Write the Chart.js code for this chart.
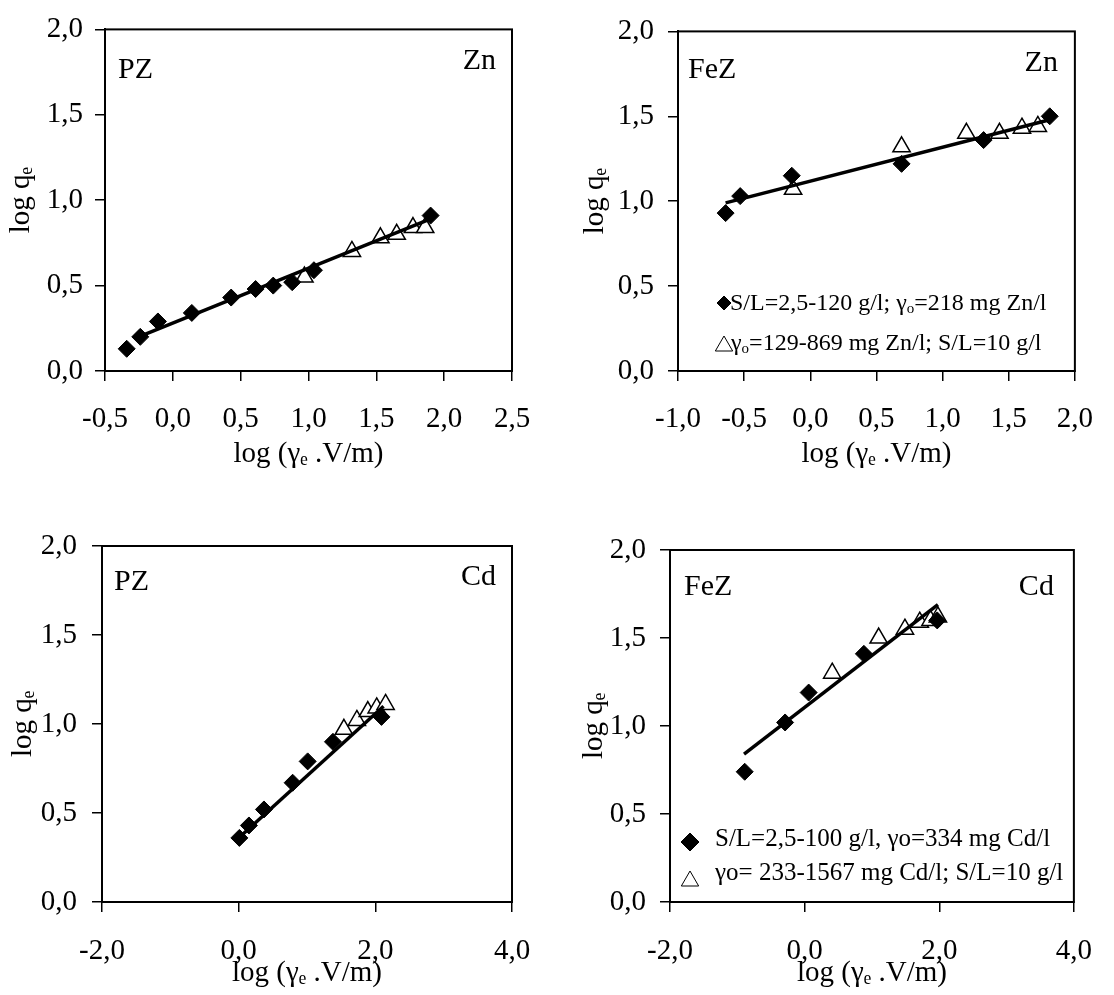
<!DOCTYPE html>
<html>
<head>
<meta charset="utf-8">
<title>log qe - log (γe V/m)</title>
<script src="https://cdn.jsdelivr.net/npm/chart.js@4.4.1/dist/chart.umd.min.js"></script>
<style>
    body { margin: 0; background: #fff; }
    #page { position: relative; width: 1114px; height: 995px; overflow: hidden; background: #fff; }
    canvas { position: absolute; }
</style>
</head>
<body>
<div id="page">
    <canvas id="pzZn" width="557" height="485" style="left:0;top:0"></canvas>
    <canvas id="feZn" width="557" height="485" style="left:557px;top:0"></canvas>
    <canvas id="pzCd" width="557" height="505" style="left:0;top:490px"></canvas>
    <canvas id="feCd" width="557" height="505" style="left:557px;top:490px"></canvas>
</div>
<script>
// values
var yTicks = [ 0, 0.5, 1, 1.5, 2 ];

var pzZnXTicks = [ -0.5, 0, 0.5, 1, 1.5, 2, 2.5 ];
var pzZnDiamondX = [ -0.34, -0.24, -0.11, 0.14, 0.43, 0.61, 0.74, 0.88, 1.04, 1.90 ];
var pzZnDiamondY = [ 0.13, 0.20, 0.29, 0.34, 0.43, 0.48, 0.50, 0.52, 0.59, 0.91 ];
var pzZnTriangleX = [ 0.97, 1.32, 1.53, 1.65, 1.77, 1.86 ];
var pzZnTriangleY = [ 0.55, 0.70, 0.78, 0.80, 0.84, 0.84 ];
var pzZnFitX = [ -0.22, 1.90 ];
var pzZnFitY = [ 0.21, 0.89 ];

var feZnXTicks = [ -1, -0.5, 0, 0.5, 1, 1.5, 2 ];
var feZnDiamondX = [ -0.64, -0.53, -0.14, 0.69, 1.31, 1.81 ];
var feZnDiamondY = [ 0.93, 1.03, 1.15, 1.22, 1.36, 1.50 ];
var feZnTriangleX = [ -0.13, 0.69, 1.18, 1.43, 1.60, 1.72 ];
var feZnTriangleY = [ 1.07, 1.32, 1.40, 1.40, 1.43, 1.44 ];
var feZnFitX = [ -0.64, 1.81 ];
var feZnFitY = [ 0.99, 1.48 ];

var cdXTicks = [ -2, 0, 2, 4 ];
var pzCdDiamondX = [ 0.01, 0.15, 0.37, 0.79, 1.01, 1.38, 2.09 ];
var pzCdDiamondY = [ 0.36, 0.43, 0.52, 0.67, 0.79, 0.90, 1.04 ];
var pzCdTriangleX = [ 1.54, 1.73, 1.89, 2.02, 2.15 ];
var pzCdTriangleY = [ 0.97, 1.02, 1.07, 1.09, 1.11 ];
var pzCdFitX = [ 0.0, 2.12 ];
var pzCdFitY = [ 0.36, 1.10 ];

var feCdDiamondX = [ -0.89, -0.29, 0.06, 0.88, 1.97 ];
var feCdDiamondY = [ 0.74, 1.02, 1.19, 1.41, 1.60 ];
var feCdTriangleX = [ 0.41, 1.10, 1.49, 1.71, 1.87, 1.98 ];
var feCdTriangleY = [ 1.30, 1.50, 1.55, 1.59, 1.60, 1.62 ];
var feCdFitX = [ -0.90, 1.98 ];
var feCdFitY = [ 0.84, 1.69 ];

var SERIF = '"Liberation Serif", "Times New Roman", serif';

var points = function ( xs, ys ) {
    return xs.map( function ( x, i ) {
        return { x: x, y: ys[ i ] };
    } );
};

var comma = function ( v ) {
    return Number( v ).toFixed( 1 ).replace( '.', ',' );
};

// text pieces starting with '_' are drawn as subscripts
var drawRich = function ( ctx, parts, x, y, size ) {
    parts.forEach( function ( p ) {
        var sub = p.charAt( 0 ) === '_';
        var txt = sub ? p.slice( 1 ) : p;
        ctx.font = ( sub ? Math.round( size * 0.62 ) : size ) + 'px ' + SERIF;
        ctx.fillText( txt, x, sub ? y + size * 0.12 : y );
        x += ctx.measureText( txt ).width;
    } );
};

var framePlugin = {
    id: 'frame',
    beforeDatasetsDraw: function ( chart ) {
        var a = chart.chartArea;
        var ctx = chart.ctx;
        ctx.save();
        ctx.strokeStyle = '#000';
        ctx.lineWidth = 2;
        ctx.strokeRect( a.left, a.top, a.right - a.left, a.bottom - a.top );
        ctx.restore();
    }
};

var notesPlugin = {
    id: 'notes',
    afterDraw: function ( chart ) {
        var p = chart.options.plugins.notes;
        var a = chart.chartArea;
        var ctx = chart.ctx;
        ctx.save();
        ctx.fillStyle = '#000';
        ctx.textBaseline = 'alphabetic';
        ctx.font = '30px ' + SERIF;
        ctx.textAlign = 'left';
        ctx.fillText( p.adsorbent.text, a.left + p.adsorbent.dx, a.top + p.adsorbent.dy );
        ctx.textAlign = 'right';
        ctx.fillText( p.metal.text, a.right - p.metal.dx, a.top + p.metal.dy );
        ctx.textAlign = 'left';
        ( p.legend || [] ).forEach( function ( row ) {
            ctx.fillStyle = row.fill;
            ctx.strokeStyle = '#000';
            Chart.helpers.drawPoint( ctx, {
                pointStyle: row.style,
                radius: row.radius,
                borderWidth: 1.5,
                rotation: 0
            }, a.left + row.mx, a.bottom - row.my );
            ctx.fillStyle = '#000';
            drawRich( ctx, row.parts, a.left + row.tx, a.bottom - row.ty, row.size );
        } );
        ctx.restore();
    }
};

var makePanel = function ( p ) {
    var font = { family: SERIF, size: 29 };
    return new Chart( document.getElementById( p.id ), {
        type: 'scatter',
        data: {
            datasets: [ {
                label: 'diamonds',
                data: points( p.diamondX, p.diamondY ),
                pointStyle: 'rectRot',
                pointRadius: 8.5,
                backgroundColor: '#000',
                borderColor: '#000',
                borderWidth: 1,
                order: 0
            }, {
                label: 'fit',
                data: points( p.fitX, p.fitY ),
                showLine: true,
                pointRadius: 0,
                borderColor: '#000',
                borderWidth: 3.5,
                order: 1
            }, {
                label: 'triangles',
                data: points( p.triangleX, p.triangleY ),
                pointStyle: 'triangle',
                pointRadius: 10,
                backgroundColor: '#fff',
                borderColor: '#000',
                borderWidth: 1.5,
                order: 2
            } ]
        },
        options: {
            responsive: false,
            animation: false,
            devicePixelRatio: 1,
            layout: { padding: { top: p.padTop, right: p.padRight, left: 0, bottom: 0 } },
            plugins: {
                legend: { display: false },
                tooltip: { enabled: false },
                notes: p.notes
            },
            scales: {
                x: {
                    type: 'linear',
                    min: p.xTicks[ 0 ],
                    max: p.xTicks[ p.xTicks.length - 1 ],
                    afterBuildTicks: function ( s ) {
                        s.ticks = p.xTicks.map( function ( v ) { return { value: v }; } );
                    },
                    afterFit: function ( s ) { s.height = p.xAxisHeight; },
                    ticks: { font: font, color: '#000', padding: p.xTickPad, maxRotation: 0, autoSkip: false, callback: comma },
                    grid: { drawOnChartArea: false, drawTicks: true, tickLength: 10, color: '#000', lineWidth: 1.5 },
                    border: { display: true, color: '#000', width: 2 },
                    title: { display: true, text: 'log (γₑ .V/m)', color: '#000', font: font, padding: { top: 0, bottom: p.xTitlePad } }
                },
                y: {
                    type: 'linear',
                    min: 0,
                    max: 2,
                    afterBuildTicks: function ( s ) {
                        s.ticks = yTicks.map( function ( v ) { return { value: v }; } );
                    },
                    afterFit: function ( s ) { s.width = p.yAxisWidth; },
                    ticks: { font: font, color: '#000', padding: p.yTickPad, autoSkip: false, callback: comma },
                    grid: { drawOnChartArea: false, drawTicks: true, tickLength: 10, color: '#000', lineWidth: 1.5 },
                    border: { display: true, color: '#000', width: 2 },
                    title: { display: true, text: 'log qₑ', color: '#000', font: font, padding: { top: p.yTitlePad, bottom: 0 } }
                }
            }
        },
        plugins: [ framePlugin, notesPlugin ]
    } );
};

makePanel( {
    id: 'pzZn',
    diamondX: pzZnDiamondX, diamondY: pzZnDiamondY,
    triangleX: pzZnTriangleX, triangleY: pzZnTriangleY,
    fitX: pzZnFitX, fitY: pzZnFitY,
    xTicks: pzZnXTicks,
    padTop: 22, padRight: 45, yAxisWidth: 105, xAxisHeight: 114,
    xTickPad: 21, yTickPad: 12, xTitlePad: 13, yTitlePad: 4,
    notes: {
        adsorbent: { text: 'PZ', dx: 13, dy: 49 },
        metal: { text: 'Zn', dx: 16, dy: 40 }
    }
} );

makePanel( {
    id: 'feZn',
    diamondX: feZnDiamondX, diamondY: feZnDiamondY,
    triangleX: feZnTriangleX, triangleY: feZnTriangleY,
    fitX: feZnFitX, fitY: feZnFitY,
    xTicks: feZnXTicks,
    padTop: 22, padRight: 30, yAxisWidth: 121, xAxisHeight: 114,
    xTickPad: 21, yTickPad: 14, xTitlePad: 13, yTitlePad: 21,
    notes: {
        adsorbent: { text: 'FeZ', dx: 10, dy: 47 },
        metal: { text: 'Zn', dx: 17, dy: 40 },
        legend: [
            { style: 'rectRot', fill: '#000', radius: 7, mx: 46, my: 68, tx: 52, ty: 61, size: 24,
              parts: [ 'S/L=2,5-120 g/l; γ', '_o', '=218 mg Zn/l' ] },
            { style: 'triangle', fill: '#fff', radius: 10, mx: 46, my: 25, tx: 53, ty: 21, size: 24,
              parts: [ 'γ', '_o', '=129-869 mg Zn/l; S/L=10 g/l' ] }
        ]
    }
} );

makePanel( {
    id: 'pzCd',
    diamondX: pzCdDiamondX, diamondY: pzCdDiamondY,
    triangleX: pzCdTriangleX, triangleY: pzCdTriangleY,
    fitX: pzCdFitX, fitY: pzCdFitY,
    xTicks: cdXTicks,
    padTop: 56, padRight: 45, yAxisWidth: 102, xAxisHeight: 93,
    xTickPad: 22, yTickPad: 15, xTitlePad: 4, yTitlePad: 6,
    notes: {
        adsorbent: { text: 'PZ', dx: 12, dy: 44 },
        metal: { text: 'Cd', dx: 16, dy: 39 }
    }
} );

makePanel( {
    id: 'feCd',
    diamondX: feCdDiamondX, diamondY: feCdDiamondY,
    triangleX: feCdTriangleX, triangleY: feCdTriangleY,
    fitX: feCdFitX, fitY: feCdFitY,
    xTicks: cdXTicks,
    padTop: 60, padRight: 30, yAxisWidth: 113, xAxisHeight: 93,
    xTickPad: 22, yTickPad: 14, xTitlePad: 4, yTitlePad: 20,
    notes: {
        adsorbent: { text: 'FeZ', dx: 14, dy: 45 },
        metal: { text: 'Cd', dx: 20, dy: 45 },
        legend: [
            { style: 'rectRot', fill: '#000', radius: 9, mx: 20, my: 60, tx: 45, ty: 56, size: 25,
              parts: [ 'S/L=2,5-100 g/l, γo=334 mg Cd/l' ] },
            { style: 'triangle', fill: '#fff', radius: 10, mx: 20, my: 21, tx: 45, ty: 22, size: 25,
              parts: [ 'γo= 233-1567 mg Cd/l; S/L=10 g/l' ] }
        ]
    }
} );
</script>
</body>
</html>
